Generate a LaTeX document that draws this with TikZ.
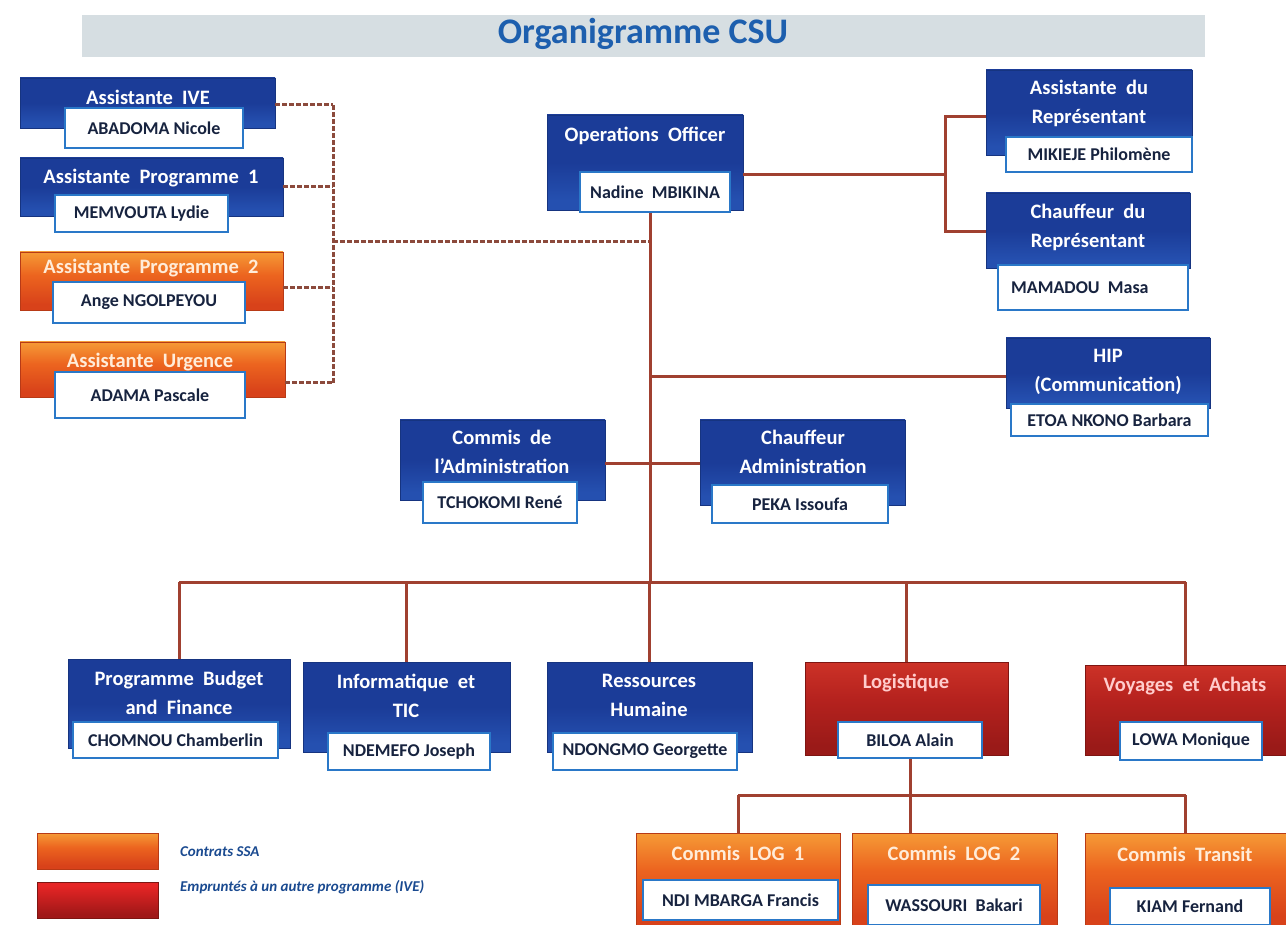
\documentclass[tikz,border=0pt]{standalone}
\usepackage{fontspec}
\setmainfont{Carlito}
\usetikzlibrary{fit}
\definecolor{bluetop}{HTML}{3D82DA}
\definecolor{bluemid}{HTML}{1B3C98}
\definecolor{bluebot}{HTML}{2550B0}
\definecolor{bluedk}{HTML}{163480}
\definecolor{orgtop}{HTML}{F8A83C}
\definecolor{orgmid}{HTML}{EC641F}
\definecolor{orgbot}{HTML}{D8421A}
\definecolor{orgdk}{HTML}{B83A16}
\definecolor{redtop}{HTML}{D83A2C}
\definecolor{redmid}{HTML}{B5221E}
\definecolor{redbot}{HTML}{9A1A18}
\definecolor{reddk}{HTML}{7E1512}
\definecolor{lgred1}{HTML}{E62525}
\definecolor{lgred2}{HTML}{A01818}
\definecolor{nameb}{HTML}{2A78C8}
\definecolor{namec}{HTML}{17233F}
\definecolor{linec}{HTML}{A04030}
\definecolor{dashc}{HTML}{8C4A3C}
\definecolor{barc}{HTML}{D6DEE2}
\definecolor{titlec}{HTML}{1D5FAE}
\definecolor{legc}{HTML}{1A4A90}
\pgfdeclareverticalshading{bluesh}{100bp}{color(0bp)=(bluebot); color(30bp)=(bluebot); color(50bp)=(bluemid); color(82bp)=(bluemid); color(92bp)=(bluetop); color(100bp)=(bluetop)}
\pgfdeclareverticalshading{orgsh}{100bp}{color(0bp)=(orgbot); color(30bp)=(orgbot); color(55bp)=(orgmid); color(80bp)=(orgtop); color(100bp)=(orgtop)}
\pgfdeclareverticalshading{redsh}{100bp}{color(0bp)=(redbot); color(30bp)=(redbot); color(55bp)=(redmid); color(85bp)=(redtop); color(100bp)=(redtop)}
\pgfdeclareverticalshading{lgredsh}{100bp}{color(0bp)=(lgred2); color(30bp)=(lgred2); color(70bp)=(lgred1); color(100bp)=(lgred1)}
\tikzset{
  conn/.style={draw=linec, line width=3pt},
  dconn/.style={draw=dashc, line width=3pt, dash pattern=on 5pt off 2pt},
  boxbase/.style={rectangle, inner sep=0pt, line width=0.8pt},
  bluebox/.style={boxbase, draw=bluedk, shading=bluesh},
  orgbox/.style={boxbase, draw=orgdk, shading=orgsh},
  redbox/.style={boxbase, draw=reddk, shading=redsh},
  lgredbox/.style={boxbase, draw=reddk, shading=lgredsh},
  ttl/.style={text=white, font=\bfseries\fontsize{20.5}{29}\selectfont, align=center, inner sep=0pt},
  nm/.style={rectangle, draw=nameb, line width=2pt, fill=white, inner sep=0pt},
  nmt/.style={inner sep=0pt, font=\bfseries\fontsize{18}{20}\selectfont, text=namec},
  legtxt/.style={text=legc, font=\bfseries\itshape\fontsize{15}{17}\selectfont, anchor=west, inner sep=0pt},
}
\begin{document}
\begin{tikzpicture}[x=1pt,y=-1pt]
\useasboundingbox (0,0) rectangle (1286,925);
% title bar
\node[fit={(82,15) (1205,57)}, fill=barc, inner sep=0pt] (bar) {};
\node[text=titlec, font=\bfseries\fontsize{36}{40}\selectfont] (title) at (643,34) {Organigramme CSU};

\coordinate (bus) at (650,582);
\coordinate (dl) at (333,242);
\coordinate (rj) at (945,175);
\coordinate (lb) at (910,795);

% ---------- left column ----------
\node[bluebox, fit={(20,78) (275,128)}] (ive) {};
\node[ttl] (iveT) at (148,97) {Assistante\ \ IVE};
\node[nm, fit={(65,108) (243,148)}] (iveN) {};
\node[nmt] at (iveN.center) {ABADOMA Nicole};

\node[bluebox, fit={(20,158) (283,216)}] (ap1) {};
\node[ttl] (ap1T) at (151,178) {Assistante\ \ Programme\ \ 1};
\node[nm, fit={(55,195) (228,232)}] (ap1N) {};
\node[nmt] at (ap1N.center) {MEMVOUTA Lydie};

\node[orgbox, fit={(20,252) (283,310)}] (ap2) {};
\node[ttl, text=white!85!orange] (ap2T) at (151,268) {Assistante\ \ Programme\ \ 2};
\node[nm, fit={(53,282) (245,323)}] (ap2N) {};
\node[nmt] at (ap2N.center) {Ange NGOLPEYOU};

\node[orgbox, fit={(20,342) (285,397)}] (urg) {};
\node[ttl, text=white!85!orange] (urgT) at (150,362) {Assistante\ \ Urgence};
\node[nm, fit={(55,372) (245,418)}] (urgN) {};
\node[nmt] at (urgN.center) {ADAMA Pascale};

\draw[dconn] (ive.east |- 0,105) -- (ive.east |- 0,105 -| dl);
\draw[dconn] (ap1.east |- 0,187) -- (ap1.east |- 0,187 -| dl);
\draw[dconn] (ap2.east |- 0,288) -- (ap2.east |- 0,288 -| dl);
\draw[dconn] (urg.east |- 0,383) -- (urg.east |- 0,383 -| dl);
\draw[dconn] (dl |- 0,105) -- (dl |- 0,383);
\draw[dconn] (dl) -- (dl -| bus);

% ---------- operations officer ----------
\node[bluebox, fit={(547,115) (743,210)}] (oo) {};
\node[ttl] (ooT) at (645,136) {Operations\ \ Officer};
\node[nm, fit={(580,172) (730,212)}] (ooN) {};
\node[nmt] at (ooN.center) {Nadine\ \ MBIKINA};
\draw[conn] (ooN.south -| bus) -- (bus);

% ---------- right column ----------
\node[bluebox, fit={(986,70) (1192,155)}] (adr) {};
\node[ttl] (adrT) at (1089,103) {Assistante\ \ du\\Représentant};
\node[nm, fit={(1006,137) (1192,172)}] (adrN) {};
\node[nmt] at (adrN.center) {MIKIEJE Philomène};

\node[bluebox, fit={(986,193) (1190,268)}] (cdr) {};
\node[ttl] (cdrT) at (1088,227) {Chauffeur\ \ du\\Représentant};
\node[nm, fit={(998,265) (1188,310)}] (cdrN) {};
\node[nmt, anchor=west] at (cdrN.west) {\hspace{14pt}MAMADOU\ \ Masa};

\draw[conn] (oo.east |- rj) -- (rj);
\draw[conn] (adr.west |- 0,117) -| (rj) |- (cdr.west |- 0,232);

\node[bluebox, fit={(1006,338) (1210,408)}] (hip) {};
\node[ttl] (hipT) at (1108,372) {HIP\\(Communication)};
\node[nm, fit={(1011,404) (1208,436)}] (hipN) {};
\node[nmt] at (hipN.center) {ETOA NKONO Barbara};
\draw[conn] (hip.west |- 0,377 -| bus) -- (hip.west |- 0,377);

% ---------- administration ----------
\node[bluebox, fit={(400,420) (605,500)}] (cda) {};
\node[ttl] (cdaT) at (502,452) {Commis\ \ de\\l'Administration};
\node[nm, fit={(423,482) (577,523)}] (cdaN) {};
\node[nmt] at (cdaN.center) {TCHOKOMI René};

\node[bluebox, fit={(700,420) (905,505)}] (cha) {};
\node[ttl] (chaT) at (803,452) {Chauffeur\\Administration};
\node[nm, fit={(712,485) (888,523)}] (chaN) {};
\node[nmt] at (chaN.center) {PEKA Issoufa};
\draw[conn] (cda.east |- 0,463) -- (cha.west |- 0,463);

% ---------- bottom row ----------
\node[bluebox, fit={(68,659) (290,748)}] (pbf) {};
\node[ttl] (pbfT) at (179,693) {Programme\ \ Budget\\and\ \ Finance};
\node[nm, fit={(73,722) (278,758)}] (pbfN) {};
\node[nmt] at (pbfN.center) {CHOMNOU Chamberlin};

\node[bluebox, fit={(303,662) (510,752)}] (inf) {};
\node[ttl] (infT) at (406,696) {Informatique\ \ et\\TIC};
\node[nm, fit={(328,733) (490,770)}] (infN) {};
\node[nmt] at (infN.center) {NDEMEFO Joseph};

\node[bluebox, fit={(547,662) (752,752)}] (rh) {};
\node[ttl] (rhT) at (649,695) {Ressources\\Humaine};
\node[nm, fit={(553,733) (737,770)}] (rhN) {};
\node[nmt] at (rhN.center) {NDONGMO Georgette};

\node[redbox, fit={(805,662) (1008,755)}] (log) {};
\node[ttl, text=white!80!red] (logT) at (906,683) {Logistique};
\node[nm, fit={(838,722) (982,758)}] (logN) {};
\node[nmt] at (logN.center) {BILOA Alain};

\node[redbox, fit={(1085,665) (1286,755)}] (vya) {};
\node[ttl, text=white!80!red] (vyaT) at (1185,686) {Voyages\ \ et\ \ Achats};
\node[nm, fit={(1120,722) (1262,760)}] (vyaN) {};
\node[nmt] at (vyaN.center) {LOWA Monique};

\draw[conn] (bus -| pbf.north) -- (bus -| vya.north);
\draw[conn] (bus -| pbf.north) -- (pbf.north);
\draw[conn] (bus -| inf.north) -- (inf.north);
\draw[conn] (bus -| rh.north) -- (rh.north);
\draw[conn] (bus -| log.north) -- (log.north);
\draw[conn] (bus -| vya.north) -- (vya.north);

% ---------- logistics staff ----------
\node[orgbox, fit={(636,833) (840,925)}] (cl1) {};
\node[ttl, text=white!85!orange] (cl1T) at (738,853) {Commis\ \ LOG\ \ 1};
\node[nm, fit={(643,880) (838,920)}] (cl1N) {};
\node[nmt] at (cl1N.center) {NDI MBARGA Francis};

\node[orgbox, fit={(852,833) (1057,925)}] (cl2) {};
\node[ttl, text=white!85!orange] (cl2T) at (954,853) {Commis\ \ LOG\ \ 2};
\node[nm, fit={(868,885) (1040,925)}] (cl2N) {};
\node[nmt] at (cl2N.center) {WASSOURI\ \ Bakari};

\node[orgbox, fit={(1085,833) (1286,925)}] (ctr) {};
\node[ttl, text=white!85!orange] (ctrT) at (1185,854) {Commis\ \ Transit};
\node[nm, fit={(1110,888) (1270,925)}] (ctrN) {};
\node[nmt] at (ctrN.center) {KIAM Fernand};

\draw[conn] (logN.south -| lb) -- (lb);
\draw[conn] (lb -| cl1.north) -- (lb -| ctr.north);
\draw[conn] (lb -| cl1.north) -- (cl1.north);
\draw[conn] (lb) -- (lb |- cl2.north);
\draw[conn] (lb -| ctr.north) -- (ctr.north);

% ---------- legend ----------
\node[orgbox, fit={(37,833) (158,869)}] (lg1) {};
\node[legtxt] (lg1T) at (180,852) {Contrats SSA};
\node[lgredbox, fit={(37,882) (158,918)}] (lg2) {};
\node[legtxt] (lg2T) at (180,887) {Empruntés à un autre programme (IVE)};
\end{tikzpicture}
\end{document}
